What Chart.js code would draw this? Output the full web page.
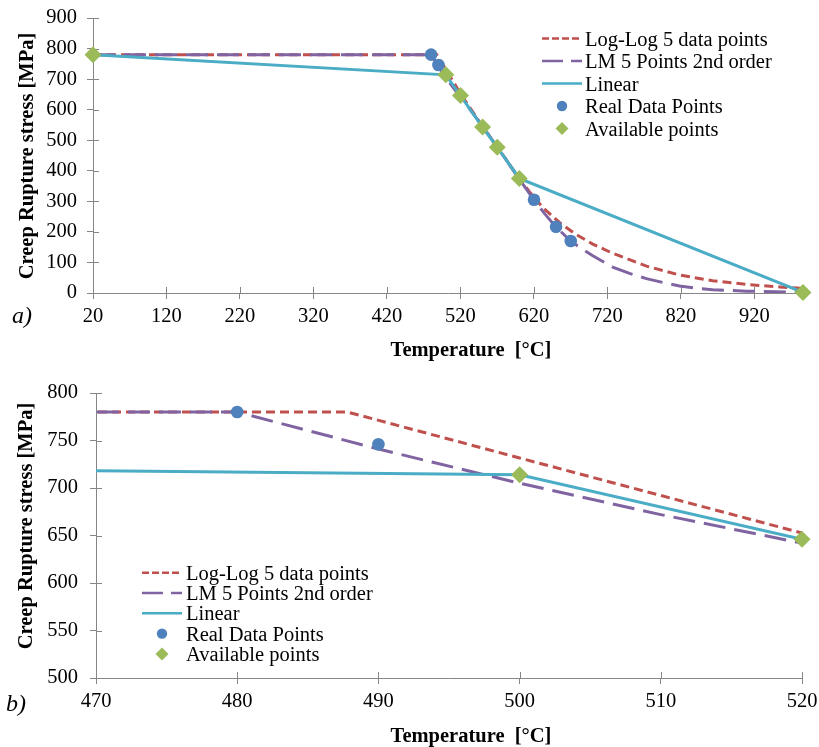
<!DOCTYPE html>
<html>
<head>
<meta charset="utf-8">
<script src="https://cdn.jsdelivr.net/npm/chart.js@4.4.1/dist/chart.umd.min.js"></script>
<style>
  html, body { margin: 0; padding: 0; background: #ffffff; }
  #wrap { position: relative; width: 819px; height: 747px; }
  #wrap canvas { position: absolute; left: 0; top: 0; }
</style>
</head>
<body>
<div id="wrap">
  <canvas id="chartA" width="819" height="747"></canvas>
  <canvas id="chartB" width="819" height="747"></canvas>
</div>
<script>
// Creep rupture stress [MPa] versus temperature [°C]

// Log-Log fit through 5 data points
const tempLogLog   = [20, 487.8, 500, 520, 550, 570, 600, 614, 632, 655, 677, 700, 727, 773, 818, 863, 909, 954, 986];
const stressLogLog = [780, 780, 731.6, 652.6, 545, 478, 375, 331, 280, 230, 192, 160, 130, 88, 59, 40, 28, 20, 15];

// Larson-Miller, 5 points, 2nd order
const tempLM   = [20, 480, 490, 500, 510, 520, 540, 560, 580, 600, 620, 635, 650, 670, 685, 700, 727, 750, 773, 800, 818, 840, 863, 890, 909, 950, 986];
const stressLM = [780, 780, 741, 705, 672, 642, 578, 512, 444, 372, 305, 258, 216, 170, 145, 122, 85, 64, 47, 32, 23, 16, 11, 8, 6, 4, 3];

// Available points (the Linear series joins them)
const tempAvail   = [20, 500, 520, 550, 570, 600, 986];
const stressAvail = [780, 714, 646, 543, 477, 375, 2];

// Real data points
const tempReal   = [480, 490, 620, 650, 670];
const stressReal = [780, 746, 305, 217, 170];

const seriesNames = ['Log-Log 5 data points', 'LM 5 Points 2nd order', 'Linear', 'Real Data Points', 'Available points'];

// Tick labels
const xTicksA = [20, 120, 220, 320, 420, 520, 620, 720, 820, 920];
const yTicksA = [0, 100, 200, 300, 400, 500, 600, 700, 800, 900];
const xTicksB = [470, 480, 490, 500, 510, 520];
const yTicksB = [500, 550, 600, 650, 700, 750, 800];

const xTitle = 'Temperature  [°C]';
const yTitle = 'Creep Rupture stress [MPa]';

const SERIF = "'Liberation Serif', 'Times New Roman', serif";
const AXIS = '#868686';
const INK = '#000000';
const FS = 20.5;

function pts(xs, ys) { return xs.map((x, i) => ({ x: x, y: ys[i] })); }

function makeDatasets() {
  return [
    { label: seriesNames[0], data: pts(tempLogLog, stressLogLog), showLine: true,
      borderColor: '#C0504D', borderWidth: 3, borderDash: [9, 5], legendDash: [7, 3],
      pointRadius: 0, order: 5 },
    { label: seriesNames[1], data: pts(tempLM, stressLM), showLine: true,
      borderColor: '#8064A2', borderWidth: 3, borderDash: [22, 9], legendDash: [21, 8],
      pointRadius: 0, order: 4 },
    { label: seriesNames[2], data: pts(tempAvail, stressAvail), showLine: true,
      borderColor: '#4BACC6', borderWidth: 3, borderDash: [], legendDash: [],
      pointRadius: 0, order: 3 },
    { label: seriesNames[3], data: pts(tempReal, stressReal), showLine: false,
      pointStyle: 'circle', pointRadius: 6.3, legendRadius: 5.2,
      backgroundColor: '#4F81BD', borderColor: '#4F81BD', pointBorderWidth: 0,
      order: 2, clip: false },
    { label: seriesNames[4], data: pts(tempAvail, stressAvail), showLine: false,
      pointStyle: 'rectRot', pointRadius: 8.5, legendRadius: 6.5,
      backgroundColor: '#9BBB59', borderColor: '#9BBB59', pointBorderWidth: 0,
      order: 1, clip: false }
  ];
}

function scaleCfg(axis, min, max, tickVals, tickPad, size) {
  return {
    type: 'linear',
    min: min,
    max: max,
    afterBuildTicks: s => { s.ticks = tickVals.map(v => ({ value: v })); },
    afterFit: s => {
      if (axis === 'x') s.height = size; else s.width = size;
      s.paddingLeft = 0; s.paddingRight = 0; s.paddingTop = 0; s.paddingBottom = 0;
    },
    grid: { drawOnChartArea: false, drawTicks: true, tickLength: 6, color: AXIS, lineWidth: 1 },
    border: { display: true, color: AXIS, width: 1 },
    ticks: {
      font: { family: SERIF, size: FS }, color: INK, padding: tickPad,
      autoSkip: false, maxRotation: 0, minRotation: 0,
      callback: v => String(v)
    }
  };
}

// Cross tick marks, axis titles, panel letter and the in-plot legend
const decorPlugin = {
  id: 'decor',
  beforeDatasetsDraw(chart) {
    const ctx = chart.ctx, a = chart.chartArea;
    const xs = chart.scales.x, ys = chart.scales.y;
    ctx.save();
    ctx.strokeStyle = AXIS;
    ctx.lineWidth = 1;
    ctx.beginPath();
    xs.ticks.forEach(t => {
      const px = Math.round(xs.getPixelForValue(t.value)) + 0.5;
      ctx.moveTo(px, a.bottom);
      ctx.lineTo(px, a.bottom - 6);
    });
    ys.ticks.forEach(t => {
      const py = Math.round(ys.getPixelForValue(t.value)) + 0.5;
      ctx.moveTo(a.left, py);
      ctx.lineTo(a.left + 6, py);
    });
    ctx.stroke();
    ctx.restore();
  },
  afterDraw(chart, args, o) {
    const ctx = chart.ctx;
    ctx.save();
    ctx.fillStyle = INK;

    // axis titles
    ctx.font = 'bold ' + FS + 'px ' + SERIF;
    ctx.textAlign = 'center';
    ctx.textBaseline = 'alphabetic';
    ctx.fillText(xTitle, o.xTitle.x, o.xTitle.y);
    ctx.save();
    ctx.translate(o.yTitle.x, o.yTitle.y);
    ctx.rotate(-Math.PI / 2);
    ctx.fillText(yTitle, 0, 0);
    ctx.restore();

    // panel letter
    ctx.font = 'italic 24px ' + SERIF;
    ctx.textAlign = 'left';
    ctx.fillText(o.panel.text, o.panel.x, o.panel.y);

    // legend
    const L = o.legend;
    chart.data.datasets.forEach((d, i) => {
      const y = L.y0 + i * L.dy;
      if (d.showLine) {
        ctx.save();
        ctx.strokeStyle = d.borderColor;
        ctx.lineWidth = 2.5;
        ctx.setLineDash(d.legendDash || []);
        ctx.beginPath();
        ctx.moveTo(L.x0, y);
        ctx.lineTo(L.x1, y);
        ctx.stroke();
        ctx.restore();
      } else {
        ctx.save();
        ctx.fillStyle = d.backgroundColor;
        ctx.strokeStyle = d.backgroundColor;
        Chart.helpers.drawPoint(ctx, { pointStyle: d.pointStyle, radius: d.legendRadius, borderWidth: 0, rotation: 0 }, (L.x0 + L.x1) / 2, y);
        ctx.restore();
      }
      ctx.font = FS + 'px ' + SERIF;
      ctx.fillStyle = INK;
      ctx.textAlign = 'left';
      ctx.fillText(d.label, L.textX, y + 7);
    });
    ctx.restore();
  }
};

function makeChart(id, cfg) {
  return new Chart(document.getElementById(id), {
    type: 'scatter',
    data: { datasets: makeDatasets() },
    options: {
      responsive: false,
      animation: false,
      events: [],
      layout: { padding: cfg.padding },
      scales: {
        x: scaleCfg('x', cfg.xMin, cfg.xMax, cfg.xTicks, cfg.xPad, cfg.xSize),
        y: scaleCfg('y', cfg.yMin, cfg.yMax, cfg.yTicks, cfg.yPad, cfg.ySize)
      },
      plugins: {
        legend: { display: false },
        tooltip: { enabled: false },
        decor: cfg.decor
      }
    },
    plugins: [decorPlugin]
  });
}

// a) full temperature range
makeChart('chartA', {
  padding: { top: 18, right: 16, bottom: 377, left: 0 },
  xMin: 20, xMax: 986, xTicks: xTicksA, xPad: 5, xSize: 77,
  yMin: 0, yMax: 900, yTicks: yTicksA, yPad: 10, ySize: 93,
  decor: {
    xTitle: { x: 471, y: 356 },
    yTitle: { x: 33, y: 156 },
    panel: { text: 'a)', x: 12, y: 323 },
    legend: { x0: 542, x1: 582, textX: 585, y0: 38.5, dy: 22.5 }
  }
});

// b) detail between 470 and 520 °C
makeChart('chartB', {
  padding: { top: 393, right: 17, bottom: 0, left: 0 },
  xMin: 470, xMax: 520, xTicks: xTicksB, xPad: 5, xSize: 69,
  yMin: 500, yMax: 800, yTicks: yTicksB, yPad: 12, ySize: 96,
  decor: {
    xTitle: { x: 471, y: 742 },
    yTitle: { x: 32, y: 526 },
    panel: { text: 'b)', x: 6, y: 711 },
    legend: { x0: 142, x1: 182, textX: 186, y0: 572.7, dy: 20.3 }
  }
});
</script>
</body>
</html>
